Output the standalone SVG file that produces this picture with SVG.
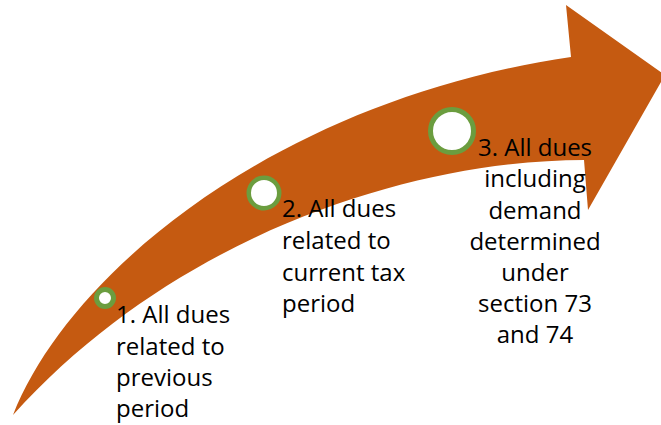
<svg xmlns="http://www.w3.org/2000/svg" width="661" height="425" viewBox="0 0 661 425">
<style>
.lbl{font-family:"Open Sans","Noto Sans","DejaVu Sans",sans-serif;font-size:24px;fill:#000}
.dot{fill:#fff;stroke:#6B9D3F}
</style>
<rect width="661" height="425" fill="#fff"/>
<g id="arrow">
<path d="M13,415 C70,270 280,100 571,57 L566,5 L665,75 L588,210 L584,160 C420,160 180,230 13,415 Z" fill="#C55A11"/>
</g>
<g id="node1">
<circle class="dot" cx="105" cy="298" r="8.5" stroke-width="5"/>
<text class="lbl" x="116"><tspan x="116" y="323">1. All dues</tspan><tspan x="116" y="354.5">related to</tspan><tspan x="116" y="386">previous</tspan><tspan x="116" y="417">period</tspan></text>
</g>
<g id="node2">
<circle class="dot" cx="264" cy="193" r="15.25" stroke-width="4.5"/>
<text class="lbl" x="282"><tspan x="282" y="217">2. All dues</tspan><tspan x="282" y="249">related to</tspan><tspan x="282" y="280.5">current tax</tspan><tspan x="282" y="312">period</tspan></text>
</g>
<g id="node3">
<circle class="dot" cx="452" cy="131" r="21.5" stroke-width="5"/>
<text class="lbl" text-anchor="middle"><tspan x="535" y="156">3. All dues</tspan><tspan x="535" y="187">including</tspan><tspan x="535" y="218.5">demand</tspan><tspan x="535" y="250">determined</tspan><tspan x="535" y="281">under</tspan><tspan x="535" y="312">section 73</tspan><tspan x="535" y="343">and 74</tspan></text>
</g>
<g id="connectors"/>
</svg>
